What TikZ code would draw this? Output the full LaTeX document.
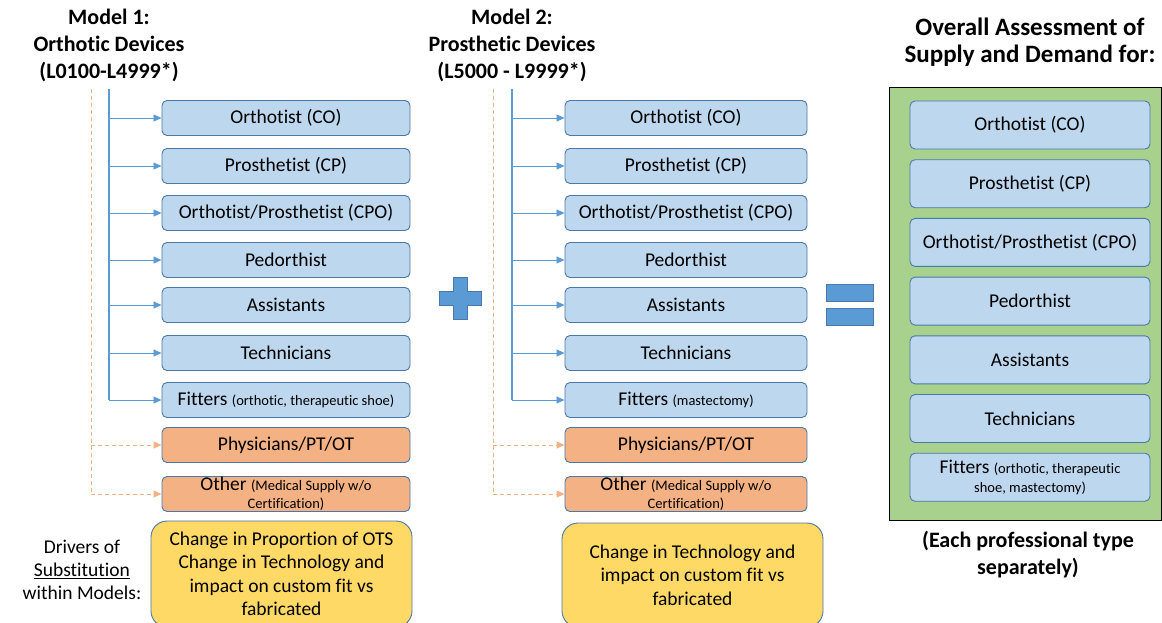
\documentclass[tikz,border=0pt]{standalone}
\usepackage{fontspec}
\setmainfont{Carlito}[Ligatures=NoCommon]
\usetikzlibrary{arrows.meta}

\definecolor{RoleBlue}{HTML}{BDD7EE}
\definecolor{RoleEdge}{HTML}{4A78A8}
\definecolor{LinkBlue}{HTML}{5B9BD5}
\definecolor{OtherOrange}{HTML}{F4B183}
\definecolor{DashOrange}{HTML}{F4B183}
\definecolor{DriverYellow}{HTML}{FFD966}
\definecolor{TotalGreen}{HTML}{A9D18E}

\newcommand\smallnote[1]{{\fontsize{14.5}{17}\selectfont #1}}

\tikzset{
  role/.style={draw=RoleEdge, line width=0.9pt, fill=RoleBlue, rounded corners=5pt,
    minimum height=35pt, inner sep=0pt, align=center,
    font=\fontsize{19.5}{17}\selectfont},
  other/.style={role, fill=OtherOrange},
  driver/.style={draw=RoleEdge, line width=0.9pt, fill=DriverYellow, rounded corners=16pt,
    inner sep=0pt, align=center, font=\fontsize{19.5}{23.5}\selectfont},
  title/.style={align=center, font=\fontsize{22}{27}\selectfont\bfseries},
  trunk/.style={draw=LinkBlue, line width=1.3pt},
  branch/.style={draw=LinkBlue, line width=0.8pt, -{Triangle[length=8pt,width=7pt]}},
  dashlink/.style={draw=DashOrange, line width=0.9pt, dash pattern=on 4pt off 3pt},
  sign/.style={fill=LinkBlue, draw=RoleEdge, line width=0.8pt}
}

\begin{document}
\begin{tikzpicture}[x=1pt, y=-1pt]
		\useasboundingbox (0,0) rectangle (1162,622);
		\clip (0,0) rectangle (1162,622);

		% Column headings
		\node[title] (ModelOne) at (109,45) {Model 1:\\Orthotic Devices\\(L0100-L4999*)};
		\node[title] (ModelTwo) at (512,45) {Model 2:\\Prosthetic Devices\\(L5000 - L9999*)};
		\node[title, font=\fontsize{25}{27}\selectfont\bfseries] (Overall) at (1030,42)
			{Overall Assessment of\\Supply and Demand for:};

		% Model 1 and Model 2 columns
		\foreach \n/\y/\t in {CO/118/{Orthotist (CO)}, CP/166/{Prosthetist (CP)},
		  CPO/213/{Orthotist/Prosthetist (CPO)}, Ped/260/{Pedorthist},
		  Asst/305/{Assistants}, Tech/353/{Technicians}}{% same roles in both models
			\node[role, minimum width=248pt] (L\n) at (286,\y) {\t};
			\node[role, minimum width=242pt] (M\n) at (686,\y) {\t};
		}
		\node[role, minimum width=248pt] (LFit) at (286,400)
			{Fitters \smallnote{(orthotic, therapeutic shoe)}};
		\node[role, minimum width=242pt] (MFit) at (686,400)
			{Fitters \smallnote{(mastectomy)}};
		\node[other, minimum width=248pt] (LPhys) at (286,445) {Physicians/PT/OT};
		\node[other, minimum width=242pt] (MPhys) at (686,445) {Physicians/PT/OT};
		\node[other, minimum width=248pt] (LOther) at (286,494)
			{Other \smallnote{(Medical Supply w/o}\\[1pt]\smallnote{Certification)}};
		\node[other, minimum width=242pt] (MOther) at (686,494)
			{Other \smallnote{(Medical Supply w/o}\\[1pt]\smallnote{Certification)}};

		% Trees feeding each column
		\coordinate (TrunkL) at (109,89);
		\coordinate (DashL)  at (91,89);
		\coordinate (TrunkM) at (512,89);
		\coordinate (DashM)  at (493,89);
		\draw[dashlink] (DashL) -- (DashL |- LOther.west);
		\draw[dashlink] (DashM) -- (DashM |- MOther.west);
		\draw[trunk] (TrunkL) -- (TrunkL |- LFit.west);
		\draw[trunk] (TrunkM) -- (TrunkM |- MFit.west);
		\foreach \n in {CO,CP,CPO,Ped,Asst,Tech,Fit}{%
			\draw[branch] (TrunkL |- L\n.west) -- (L\n.west);
			\draw[branch] (TrunkM |- M\n.west) -- (M\n.west);
		}
		\foreach \n in {Phys,Other}{%
			\draw[dashlink, -{Triangle[length=8pt,width=7pt]}] (DashL |- L\n.west) -- (L\n.west);
			\draw[dashlink, -{Triangle[length=8pt,width=7pt]}] (DashM |- M\n.west) -- (M\n.west);
		}

		% Drivers of substitution
		\node[align=center, font=\fontsize{19.5}{23}\selectfont] (Drivers) at (82,570)
			{Drivers of\\\underline{Substitution}\\within Models:};
		\node[driver, minimum width=261pt, minimum height=106pt] (DriveL) at (281.5,574)
			{Change in Proportion of OTS\\Change in Technology and\\impact on custom fit vs\\fabricated};
		\node[driver, minimum width=261pt, minimum height=104pt] (DriveM) at (692.5,575)
			{Change in Technology and\\impact on custom fit vs\\fabricated};

		% Plus and equals signs
		\draw[sign] (453,277) -- (467,277) -- (467,291) -- (481,291) -- (481,305) -- (467,305)
			-- (467,319) -- (453,319) -- (453,305) -- (439,305) -- (439,291) -- (453,291) -- cycle;
		\draw[sign] (826,284) rectangle (873,301);
		\draw[sign] (826,308) rectangle (873,325);

		% Overall assessment panel
		\draw[fill=TotalGreen, draw=black, line width=1pt] (889,87) rectangle (1161.5,520);
		\foreach \n/\i/\t in {CO/0/{Orthotist (CO)}, CP/1/{Prosthetist (CP)},
		  CPO/2/{Orthotist/Prosthetist (CPO)}, Ped/3/{Pedorthist},
		  Asst/4/{Assistants}, Tech/5/{Technicians}}{%
			\node[role, minimum width=240pt, minimum height=48pt] (R\n) at (1030,125+58.7*\i) {\t};
		}
		\node[role, minimum width=240pt, minimum height=48pt] (RFit) at (1030,477.2)
			{Fitters \smallnote{(orthotic, therapeutic}\\[2pt]\smallnote{shoe, mastectomy)}};
		\node[title] (EachType) at (1028,555) {(Each professional type\\separately)};
	  \end{tikzpicture}
\end{document}
